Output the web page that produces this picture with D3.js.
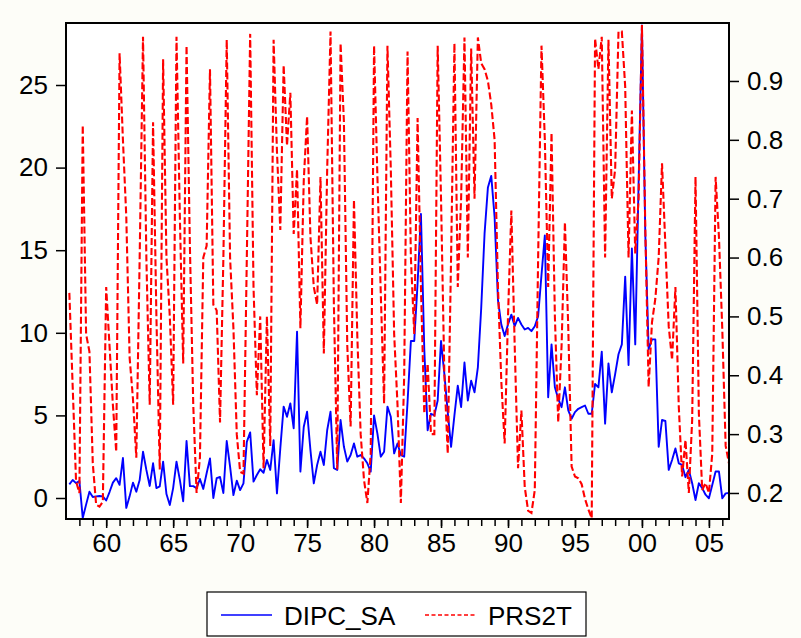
<!DOCTYPE html>
<html>
<head>
<meta charset="utf-8">
<script src="https://cdnjs.cloudflare.com/ajax/libs/d3/7.8.5/d3.min.js"></script>
<style>
    body { margin: 0; background: #fdfdf8; }
    svg text { font-family: "Liberation Sans", Arial, sans-serif; fill: #000; }
</style>
</head>
<body>
<svg id="chartSVG" width="801" height="638"></svg>
<script>
/**
 * First observation of the quarterly sample (1957Q1), 198 quarters in total.
 */
const startYear = 1957;
const endYear = 2006.5;

const seriesNames = ["DIPC_SA", "PRS2T"];

const leftTicks = [0, 5, 10, 15, 20, 25];
const rightTicks = [0.2, 0.3, 0.4, 0.5, 0.6, 0.7, 0.8, 0.9];
const yearTicks = [1960, 1965, 1970, 1975, 1980, 1985, 1990, 1995, 2000, 2005];
const yearLabels = ["60", "65", "70", "75", "80", "85", "90", "95", "00", "05"];

// DIPC_SA, left axis, one value per quarter
const dipcSa = [
    0.83, 1.09, 0.9, 1.03, -1.21, -0.4, 0.38, 0.06, 0.1, 0.12, 0.1, -0.15,
    0.36, 0.93, 1.2, 0.8, 2.42, -0.6, 0.1, 0.93, 0.38, 1.09, 2.8, 1.7,
    0.73, 2.1, 0.6, 0.7, 2.2, 0.24, -0.42, 0.6, 2.2, 1.1, -0.2, 3.45,
    0.72, 0.72, 0.6, 1.15, 0.55, 1.5, 2.4, 0.0, 1.2, 1.27, 0.3, 3.45,
    1.9, 0.18, 1.05, 0.48, 0.89, 3.4, 3.97, 0.99, 1.39, 1.74, 1.53, 2.3,
    1.7, 3.5, 0.28, 3.0, 5.53, 4.92, 5.73, 4.22, 10.07, 1.6, 4.3, 5.22,
    2.9, 0.89, 2.0, 2.8, 2.0, 4.1, 5.22, 1.8, 1.7, 4.72, 3.1, 2.2,
    2.6, 3.3, 2.5, 2.6, 2.4, 2.1, 1.6, 5.0, 3.9, 2.5, 2.8, 5.53,
    4.92, 2.7, 3.3, 2.6, 2.5, 5.8, 9.5, 9.5, 13.0, 17.2, 9.0, 4.1,
    5.1, 5.0, 5.9, 9.5, 7.5, 5.2, 3.1, 5.0, 6.8, 5.5, 8.2, 5.9,
    7.1, 6.4, 7.9, 11.5, 16.0, 18.8, 19.5, 17.0, 12.0, 10.5, 9.8, 10.5,
    11.1, 10.4, 10.9, 10.5, 10.2, 10.3, 10.1, 10.4, 11.0, 13.5, 15.9, 6.1,
    9.3, 6.7, 6.0, 5.5, 6.7, 5.3, 4.8, 5.2, 5.4, 5.5, 5.6, 5.1,
    5.1, 6.9, 6.7, 8.86, 4.5, 8.15, 6.4, 7.5, 8.7, 9.3, 13.4, 8.05,
    15.1, 9.3, 19.0, 28.6, 16.0, 9.0, 9.6, 9.6, 3.1, 4.72, 4.66, 1.7,
    2.3, 3.0, 2.1, 2.0, 1.26, 1.7, 0.89, -0.12, 0.89, 0.6, 0.2, -0.02,
    0.79, 1.6, 1.6, -0.02, 0.28, 0.3
];

// PRS2T, right axis, one value per quarter
const prs2t = [
    0.54, 0.38, 0.22, 0.2, 0.825, 0.47, 0.44, 0.25, 0.18, 0.177, 0.185, 0.55,
    0.45, 0.35, 0.27, 0.947, 0.8, 0.67, 0.43, 0.36, 0.26, 0.6, 0.975, 0.6,
    0.35, 0.83, 0.5, 0.24, 0.937, 0.6, 0.5, 0.35, 0.975, 0.67, 0.42, 0.96,
    0.62, 0.35, 0.2, 0.26, 0.6, 0.62, 0.92, 0.52, 0.51, 0.32, 0.6, 0.97,
    0.6, 0.48, 0.3, 0.236, 0.233, 0.6, 0.98, 0.55, 0.366, 0.5, 0.242, 0.5,
    0.28, 0.97, 0.78, 0.647, 0.927, 0.79, 0.88, 0.64, 0.75, 0.48, 0.73, 0.84,
    0.635, 0.55, 0.52, 0.737, 0.437, 0.75, 0.984, 0.52, 0.24, 0.964, 0.83, 0.45,
    0.313, 0.698, 0.466, 0.3, 0.222, 0.183, 0.267, 0.96, 0.737, 0.54, 0.352, 0.96,
    0.75, 0.47, 0.35, 0.183, 0.4, 0.95, 0.6, 0.47, 0.837, 0.55, 0.335, 0.42,
    0.3, 0.3, 0.96, 0.7, 0.4, 0.267, 0.6, 0.964, 0.55, 0.7, 0.974, 0.6,
    0.955, 0.7, 0.974, 0.93, 0.92, 0.9, 0.86, 0.8, 0.55, 0.39, 0.284, 0.5,
    0.68, 0.45, 0.242, 0.34, 0.21, 0.17, 0.166, 0.205, 0.6, 0.96, 0.8, 0.55,
    0.812, 0.5, 0.32, 0.45, 0.66, 0.48, 0.245, 0.228, 0.225, 0.215, 0.19, 0.172,
    0.157, 0.972, 0.92, 0.975, 0.6, 0.97, 0.7, 0.75, 0.984, 0.984, 0.89, 0.6,
    0.85, 0.607, 0.7, 0.995, 0.65, 0.38, 0.49, 0.53, 0.6, 0.76, 0.62, 0.483,
    0.426, 0.55, 0.347, 0.228, 0.29, 0.2, 0.324, 0.737, 0.335, 0.205, 0.217, 0.2,
    0.267, 0.737, 0.635, 0.477, 0.28, 0.25
];

/**
 * Plot box inside the svg.
 */
const plotLeft = 66, plotRight = 729, plotTop = 23, plotBottom = 519;

/**
 * Draws the two series with a left and a right axis and the legend below.
 */
var drawChart = function() {
    var svg = d3.select("#chartSVG");

    // quarter i sits at the end of its quarter, so the last one touches the right edge
    var timeOf = function(i) { return startYear + (i + 1) / 4; };

    var xScale = d3.scaleLinear()
                    .domain([startYear, endYear])
                    .range([plotLeft, plotRight]);
    var leftScale = d3.scaleLinear()
                    .domain([-1.271, 28.753])
                    .range([plotBottom, plotTop]);
    var rightScale = d3.scaleLinear()
                    .domain([0.1558, 0.9985])
                    .range([plotBottom, plotTop]);

    svg.append("rect")
        .attr("x", plotLeft).attr("y", plotTop)
        .attr("width", plotRight - plotLeft).attr("height", plotBottom - plotTop)
        .attr("fill", "#ffffff");

    svg.append("clipPath").attr("id", "plotClip")
        .append("rect")
        .attr("x", plotLeft).attr("y", plotTop)
        .attr("width", plotRight - plotLeft).attr("height", plotBottom - plotTop);

    var blueLine = d3.line()
        .x((d, i) => xScale(timeOf(i)))
        .y(d => leftScale(d));
    var redLine = d3.line()
        .x((d, i) => xScale(timeOf(i)))
        .y(d => rightScale(d));

    var lines = svg.append("g").attr("clip-path", "url(#plotClip)");
    lines.append("path")
        .datum(dipcSa)
        .attr("d", blueLine)
        .attr("fill", "none")
        .attr("stroke", "#0000ff")
        .attr("stroke-width", 1.9)
        .attr("stroke-linejoin", "round");
    lines.append("path")
        .datum(prs2t)
        .attr("d", redLine)
        .attr("fill", "none")
        .attr("stroke", "#ff0000")
        .attr("stroke-width", 2.1)
        .attr("stroke-dasharray", "7,3");

    // frame
    svg.append("rect")
        .attr("x", plotLeft).attr("y", plotTop)
        .attr("width", plotRight - plotLeft).attr("height", plotBottom - plotTop)
        .attr("fill", "none")
        .attr("stroke", "#000")
        .attr("stroke-width", 2);

    var leftAxis = d3.axisLeft(leftScale)
                    .tickValues(leftTicks)
                    .tickSize(10)
                    .tickPadding(8)
                    .tickFormat(d3.format("d"));
    var rightAxis = d3.axisRight(rightScale)
                    .tickValues(rightTicks)
                    .tickSize(10)
                    .tickPadding(8)
                    .tickFormat(d3.format(".1f"));

    var minorYears = d3.range(1958, 2007);
    var minorAxis = d3.axisBottom(xScale)
                    .tickValues(minorYears)
                    .tickSize(7)
                    .tickFormat("");
    var majorAxis = d3.axisBottom(xScale)
                    .tickValues(yearTicks)
                    .tickSize(9)
                    .tickPadding(6)
                    .tickFormat((d, i) => yearLabels[i]);

    var gl = svg.append("g")
        .attr("transform", "translate(" + plotLeft + ",0)")
        .call(leftAxis);
    var gr = svg.append("g")
        .attr("transform", "translate(" + plotRight + ",0)")
        .call(rightAxis);
    var gm = svg.append("g")
        .attr("transform", "translate(0," + plotBottom + ")")
        .call(minorAxis);
    var gx = svg.append("g")
        .attr("transform", "translate(0," + plotBottom + ")")
        .call(majorAxis);

    [gl, gr, gm, gx].forEach(g => {
        g.select(".domain").remove();
        g.selectAll(".tick line").attr("stroke", "#000").attr("stroke-width", 1.5);
        g.selectAll(".tick text")
            .attr("font-size", 26)
            .attr("font-family", "Liberation Sans, Arial, sans-serif")
            .attr("fill", "#000");
    });

    // legend
    var legend = svg.append("g").attr("id", "legend");
    legend.append("rect")
        .attr("x", 207).attr("y", 592)
        .attr("width", 379).attr("height", 44)
        .attr("fill", "#ffffff")
        .attr("stroke", "#000")
        .attr("stroke-width", 1.2);

    var items = [
        {name: seriesNames[0], colour: "#0000ff", dash: null, x: 221},
        {name: seriesNames[1], colour: "#ff0000", dash: "4,2.5", x: 425}
    ];
    items.forEach(item => {
        legend.append("line")
            .attr("x1", item.x).attr("x2", item.x + 51)
            .attr("y1", 615).attr("y2", 615)
            .attr("stroke", item.colour)
            .attr("stroke-width", 1.3)
            .attr("stroke-dasharray", item.dash);
        legend.append("text")
            .attr("x", item.x + 63)
            .attr("y", 625)
            .attr("font-size", 26)
            .text(item.name);
    });
}

drawChart();
</script>
</body>
</html>
